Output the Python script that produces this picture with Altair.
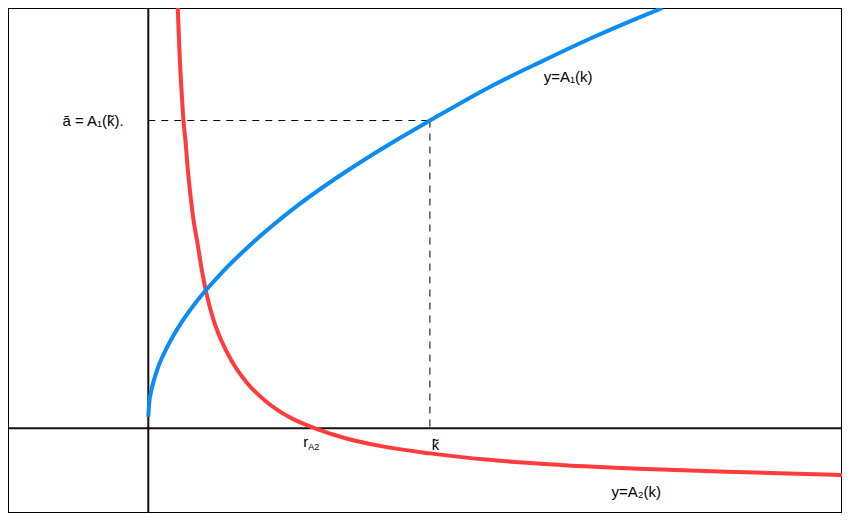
import altair as alt
import pandas as pd

# Curve readings (k, y) from the picture; origin at the axes' crossing
blue_k = [0.00, 0.01, 0.03, 0.06, 0.10, 0.20, 0.35, 0.50, 0.75, 1.00, 1.50, 2.00, 2.50, 2.87, 3.50, 4.00, 4.50, 5.00, 5.24]
blue_y = [0.12, 0.27, 0.39, 0.51, 0.635, 0.86, 1.12, 1.33, 1.62, 1.87, 2.30, 2.66, 2.98, 3.20, 3.56, 3.81, 4.05, 4.27, 4.37]

red_k = [0.30, 0.32, 0.34, 0.36, 0.38, 0.40, 0.43, 0.46, 0.50, 0.55, 0.60, 0.67, 0.75, 0.85, 1.00, 1.20, 1.45, 1.70, 2.00, 2.40, 2.87, 3.50, 4.20, 5.00, 6.00, 7.07]
red_y = [4.37, 3.86, 3.49, 3.18, 2.98, 2.72, 2.42, 2.17, 1.93, 1.62, 1.37, 1.11, 0.90, 0.70, 0.48, 0.28, 0.11, 0.00, -0.10, -0.19, -0.26, -0.33, -0.38, -0.42, -0.455, -0.485]

k_tilde = 2.87
a_bar = 3.20

label_text = ["ā = A₁(k̃).", "y=A₁(k)", "r", "k̃", "y=A₂(k)"]
label_x = [-0.25, 4.03, 1.58, 2.89, 4.72]
label_y = [3.20, 3.65, -0.14, -0.17, -0.66]
label_align = ["right", "left", "left", "left", "left"]
sub_text = ["A2"]
sub_x = [1.63]
sub_y = [-0.195]

x_domain = [-1.43, 7.07]
y_domain = [-0.88, 4.37]

xs = alt.Scale(domain=x_domain, nice=False, zero=False)
ys = alt.Scale(domain=y_domain, nice=False, zero=False)

blue = pd.DataFrame({"k": blue_k, "y": blue_y, "o": range(len(blue_k))})
red = pd.DataFrame({"k": red_k, "y": red_y, "o": range(len(red_k))})
dash = pd.DataFrame({"x": [0, k_tilde], "y": [a_bar, a_bar], "x2": [k_tilde, k_tilde], "y2": [a_bar, 0]})
labels = pd.DataFrame({"t": label_text, "x": label_x, "y": label_y, "a": label_align})
subs = pd.DataFrame({"t": sub_text, "x": sub_x, "y": sub_y})

X = lambda f: alt.X(f, type="quantitative", scale=xs, axis=None)
Y = lambda f: alt.Y(f, type="quantitative", scale=ys, axis=None)

axis_h = alt.Chart(pd.DataFrame({"v": [0]})).mark_rule(color="#111", strokeWidth=2).encode(y=Y("v"))
axis_v = alt.Chart(pd.DataFrame({"v": [0]})).mark_rule(color="#111", strokeWidth=2).encode(x=X("v"))

dashed = alt.Chart(dash).mark_rule(color="black", strokeWidth=1, strokeDash=[7, 6]).encode(
    x=X("x"), y=Y("y"), x2="x2", y2="y2")

blue_line = alt.Chart(blue).mark_line(color="#0A8CF2", strokeWidth=4, interpolate="monotone", clip=True).encode(
    x=X("k"), y=Y("y"), order="o")
red_line = alt.Chart(red).mark_line(color="#FF3B3B", strokeWidth=4, interpolate="monotone", clip=True).encode(
    x=X("k"), y=Y("y"), order="o")

def text_layer(df, align, size):
    return alt.Chart(df).mark_text(align=align, baseline="middle", font="Liberation Sans",
                                   fontSize=size, color="black").encode(x=X("x"), y=Y("y"), text="t")

txt_right = text_layer(labels[labels.a == "right"], "right", 15)
txt_left = text_layer(labels[labels.a == "left"], "left", 15)
txt_sub = text_layer(subs, "left", 9)

chart = alt.layer(axis_h, axis_v, dashed, red_line, blue_line, txt_right, txt_left, txt_sub).properties(
    width=834, height=505, padding=0, background="white", autosize=alt.AutoSizeParams(type="none")
).configure_view(stroke="black", strokeWidth=2)

chart.save("out.html", embed_options={"renderer": "svg", "actions": False})
